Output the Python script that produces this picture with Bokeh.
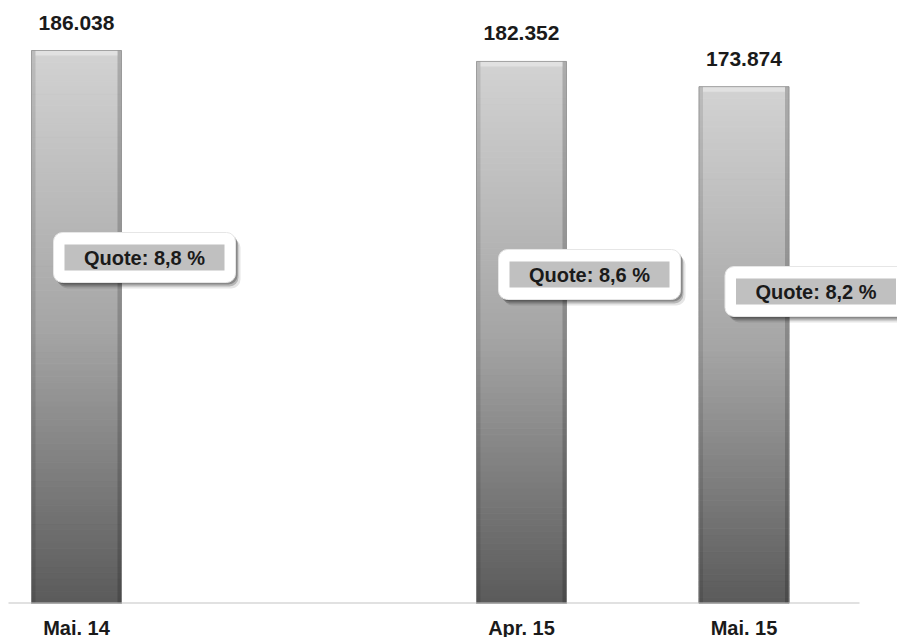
from bokeh.plotting import figure
from bokeh.models import Range1d, FixedTicker
from bokeh.embed import file_html
from bokeh.resources import INLINE
from bokeh.core.properties import value
import numpy as np

# ---- data ----
positions = [0, 2, 3]            # category slots (slot 1 is empty)
labels = ["Mai. 14", "Apr. 15", "Mai. 15"]
values = [186038, 182352, 173874]
value_labels = ["186.038", "182.352", "173.874"]
quote_labels = ["Quote: 8,8 %", "Quote: 8,6 %", "Quote: 8,2 %"]

# ---- layout constants ----
W_FRAME, H_FRAME = 889, 595
Y_MAX = 200170
PX_PER_SLOT = 222.5
X0_PX = 68
x_start = -X0_PX / PX_PER_SLOT
x_end = x_start + W_FRAME / PX_PER_SLOT
ux = 1.0 / PX_PER_SLOT          # data units per px (x)
uy = Y_MAX / H_FRAME            # data units per px (y)
BAR_W = 90 * ux
box_dx_px = [68, 68, 72]         # label box offset from bar centre
box_y_px = [249, 266, 283]       # label box centre from frame top
FONT = "Liberation Sans"

p = figure(frame_width=W_FRAME, frame_height=H_FRAME,
           x_range=Range1d(x_start, x_end), y_range=Range1d(0, Y_MAX),
           output_backend="svg", toolbar_location=None, min_border=0,
           min_border_left=8, min_border_top=8)
p.outline_line_color = None
p.xgrid.visible = False
p.ygrid.visible = False
p.yaxis.visible = False
p.background_fill_color = "white"
p.border_fill_color = "white"

# gradient bars (3-stop grey gradient, dark at bottom, light at top)
N = 90
stops_f = [0.0, 0.5, 1.0]
stops_c = [0x5a, 0xa6, 0xd2]
L, R, B, T, C = [], [], [], [], []
for pos, v in zip(positions, values):
    for k in range(N):
        f = (k + 0.5) / N
        g = int(round(np.interp(f, stops_f, stops_c)))
        L.append(pos - BAR_W / 2); R.append(pos + BAR_W / 2)
        B.append(v * k / N); T.append(v * (k + 1) / N)
        C.append("#%02x%02x%02x" % (g, g, g))
p.quad(left=L, right=R, bottom=B, top=T, fill_color=C, line_color=C, line_width=1)

# bevel effects
pos_a = np.array(positions, dtype=float)
val_a = np.array(values, dtype=float)
p.quad(left=pos_a - BAR_W / 2, right=pos_a - BAR_W / 2 + 4 * ux, bottom=0, top=val_a,
       fill_color="black", fill_alpha=0.10, line_color=None)
p.quad(left=pos_a + BAR_W / 2 - 4 * ux, right=pos_a + BAR_W / 2, bottom=0, top=val_a,
       fill_color="black", fill_alpha=0.18, line_color=None)
p.quad(left=pos_a - BAR_W / 2 + 4 * ux, right=pos_a + BAR_W / 2 - 4 * ux,
       bottom=val_a - 5 * uy, top=val_a, fill_color="white", fill_alpha=0.35, line_color=None)
p.quad(left=pos_a - BAR_W / 2, right=pos_a + BAR_W / 2, bottom=0, top=val_a,
       fill_color=None, line_color="#8c8c8c", line_alpha=0.7, line_width=1)

# baseline
p.segment(x0=[x_start + (-1) * ux], x1=[x_start + 851 * ux], y0=[0], y1=[0],
          line_color="#c4c4c4", line_width=2)

# value labels above bars
p.text(x=positions, y=list(val_a + 28 * uy), text=value_labels,
       text_align="center", text_baseline="middle",
       text_font=value(FONT), text_font_style="bold", text_font_size="21px",
       text_color="#1a1a1a")

# quote boxes
bx = np.array([pos + dx * ux for pos, dx in zip(positions, box_dx_px)])
by = np.array([Y_MAX - yp * uy for yp in box_y_px])
OW, OH = 182 * ux, 50 * uy
IW, IH = 160 * ux, 26 * uy
for sx, sy, a in [(5, 6, 0.10), (3, 4, 0.20), (2, 2, 0.25)]:
    p.quad(left=bx - OW / 2 + sx * ux, right=bx + OW / 2 + sx * ux,
           bottom=by - OH / 2 - sy * uy, top=by + OH / 2 - sy * uy,
           fill_color="black", fill_alpha=a, line_color=None, border_radius=9)
p.quad(left=bx - OW / 2, right=bx + OW / 2, bottom=by - OH / 2, top=by + OH / 2,
       fill_color="white", line_color="#e6e6e6", border_radius=9)
p.quad(left=bx - IW / 2, right=bx + IW / 2, bottom=by - IH / 2, top=by + IH / 2,
       fill_color="#c0c0c0", line_color=None)
p.text(x=list(bx), y=list(by), text=quote_labels,
       text_align="center", text_baseline="middle",
       text_font=value(FONT), text_font_style="bold", text_font_size="20px",
       text_color="#1a1a1a")

# category axis
p.xaxis.ticker = FixedTicker(ticks=positions)
p.xaxis.major_label_overrides = {pos: lab for pos, lab in zip(positions, labels)}
p.xaxis.axis_line_color = None
p.xaxis.major_tick_line_color = None
p.xaxis.minor_tick_line_color = None
p.xaxis.major_label_standoff = 7
p.xaxis.major_label_text_font = FONT
p.xaxis.major_label_text_font_style = "bold"
p.xaxis.major_label_text_font_size = "20px"
p.xaxis.major_label_text_color = "#1a1a1a"

open("out.html", "w").write(file_html(p, INLINE))
